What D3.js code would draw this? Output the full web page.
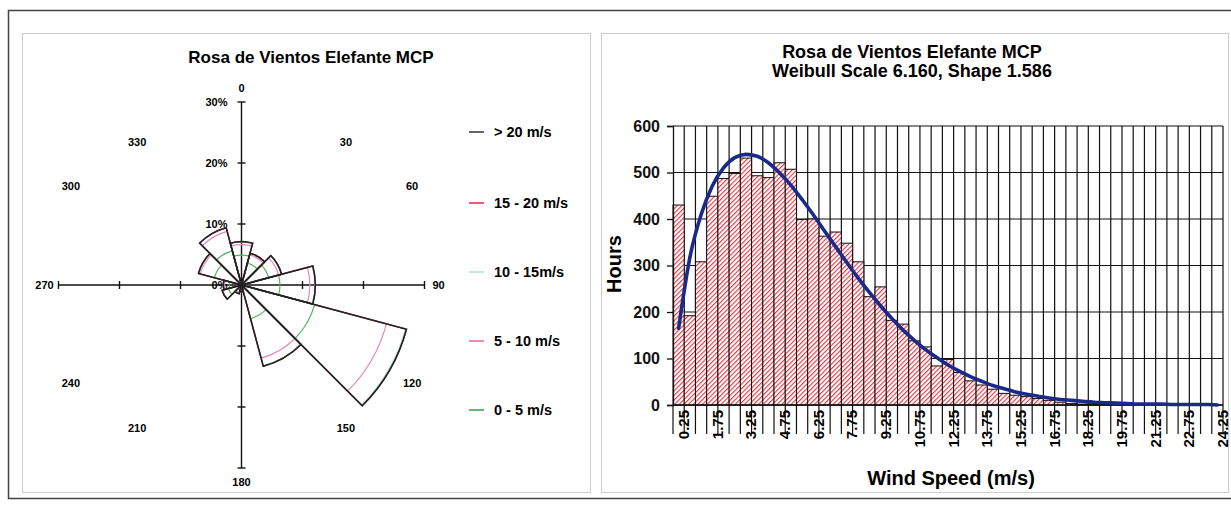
<!DOCTYPE html>
<html>
<head>
<meta charset="utf-8">
<script src="https://cdn.jsdelivr.net/npm/d3@7"></script>
<style>
  body { margin: 0; background: #fff; }
  svg { display: block; font-family: "Liberation Sans", Arial, sans-serif; font-weight: bold; }
</style>
</head>
<body>
<svg id="chart" width="1231" height="507"></svg>
<script>
// wind rose: % of time per direction sector and speed band
const directions = [0, 30, 60, 90, 120, 150, 180, 210, 240, 270, 300, 330]
const speed0to5 = [4.9, 3.7, 4.6, 6.3, 12.4, 5.7, 0.6, 0.8, 2.2, 2.0, 4.6, 5.8]
const speed5to10 = [1.7, 1.4, 1.7, 4.9, 12.2, 6.7, 0.4, 0.5, 1.0, 0.8, 2.4, 3.3]
const speed10to15 = [0.4, 0.3, 0.5, 0.8, 3.2, 1.3, 0.1, 0.2, 0.1, 0.2, 0.3, 0.6]
const speed15to20 = [0.1, 0.0, 0.0, 0.1, 0.2, 0.1, 0.0, 0.0, 0.0, 0.0, 0.0, 0.0]
const speedOver20 = [0.0, 0.0, 0.0, 0.0, 0.0, 0.0, 0.0, 0.0, 0.0, 0.0, 0.0, 0.0]
const bandNames = ['0 - 5 m/s', '5 - 10 m/s', '10 - 15m/s', '15 - 20 m/s', '> 20 m/s']
const roseTicks = [0, 10, 20, 30]

// histogram: hours per 0.5 m/s bin, plus the Weibull fit
const speedBins = ['0.25', '0.75', '1.25', '1.75', '2.25', '2.75', '3.25', '3.75', '4.25', '4.75',
  '5.25', '5.75', '6.25', '6.75', '7.25', '7.75', '8.25', '8.75', '9.25', '9.75',
  '10.25', '10.75', '11.25', '11.75', '12.25', '12.75', '13.25', '13.75', '14.25', '14.75',
  '15.25', '15.75', '16.25', '16.75', '17.25', '17.75', '18.25', '18.75', '19.25', '19.75',
  '20.25', '20.75', '21.25', '21.75', '22.25', '22.75', '23.25', '23.75', '24.25']
const hours = [430, 192, 308, 449, 487, 498, 531, 493, 489, 521,
  507, 399, 400, 363, 372, 348, 308, 233, 254, 182,
  174, 138, 125, 84, 98, 70, 52, 43, 34, 25,
  21, 18, 14, 10, 6, 3, 2, 2, 1, 1,
  1, 0, 0, 0, 0, 0, 0, 0, 0]
const weibullHours = [165, 317, 409, 471, 510, 532, 539, 535, 521, 499,
  473, 442, 409, 374, 340, 306, 273, 242, 213, 186,
  161, 139, 119, 102, 86, 73, 61, 51, 42, 35,
  28, 23, 19, 15, 12, 10, 8, 6, 5, 4,
  3, 2, 2, 2, 1, 1, 1, 1, 0]
const speedTickLabels = ['0.25', '1.75', '3.25', '4.75', '6.25', '7.75', '9.25', '10.75', '12.25',
  '13.75', '15.25', '16.75', '18.25', '19.75', '21.25', '22.75', '24.25']
const hoursTicks = [0, 100, 200, 300, 400, 500, 600]

const bandColors = ['#4fb65a', '#e28ab8', '#b8e9d8', '#d62a52', '#222']
const legendColors = ['#3d9a4c', '#e06aa0', '#a8e2cf', '#d62a52', '#333']

const svg = d3.select('#chart')

// frames
svg.append('rect')
  .attr('x', 8.5).attr('y', 10.5).attr('width', 1240).attr('height', 488)
  .attr('fill', 'none').attr('stroke', '#444').attr('stroke-width', 1.5)
svg.append('rect')
  .attr('x', 22.5).attr('y', 33.5).attr('width', 568).attr('height', 459)
  .attr('fill', 'none').attr('stroke', '#999').attr('stroke-dasharray', '1,1')
svg.append('rect')
  .attr('x', 601.5).attr('y', 33.5).attr('width', 627).attr('height', 459)
  .attr('fill', 'none').attr('stroke', '#999').attr('stroke-dasharray', '1,1')

/* ---------- wind rose ---------- */
function drawRose() {
  const cx = 241.5
  const cy = 285
  const r = d3.scaleLinear().domain([0, 30]).range([0, 183])
  const rMax = r(30)
  const rad = (deg) => deg * Math.PI / 180

  svg.append('text')
    .attr('x', 311).attr('y', 63)
    .attr('text-anchor', 'middle')
    .attr('font-size', 17)
    .text('Rosa de Vientos Elefante MCP')

  const g = svg.append('g').attr('transform', `translate(${cx},${cy})`)

  // axes cross with ticks every 10%
  g.append('line').attr('x1', -rMax).attr('x2', rMax).attr('y1', 0).attr('y2', 0)
    .attr('stroke', '#111').attr('stroke-width', 1.4)
  g.append('line').attr('y1', -rMax).attr('y2', rMax).attr('x1', 0).attr('x2', 0)
    .attr('stroke', '#111').attr('stroke-width', 1.4)
  roseTicks.filter((t) => t > 0).forEach((t) => {
    [-1, 1].forEach((s) => {
      g.append('line').attr('x1', s * r(t)).attr('x2', s * r(t)).attr('y1', -4).attr('y2', 4)
        .attr('stroke', '#111').attr('stroke-width', 1.4)
      g.append('line').attr('y1', s * r(t)).attr('y2', s * r(t)).attr('x1', -4).attr('x2', 4)
        .attr('stroke', '#111').attr('stroke-width', 1.4)
    })
  })
  g.selectAll('text.pct')
    .data(roseTicks)
    .join('text')
    .attr('class', 'pct')
    .attr('x', -14)
    .attr('y', (d) => -r(d) + 4)
    .attr('text-anchor', 'end')
    .attr('font-size', 11)
    .text((d) => d + '%')

  // stacked petals, inner band first so the outer black outline sits on top
  const bands = [speed0to5, speed5to10, speed10to15, speed15to20, speedOver20]
  const cumulative = directions.map((d, j) => d3.cumsum(bands.map((b) => b[j])))
  const arc = d3.arc().innerRadius(0)

  bands.forEach((band, i) => {
    g.append('g')
      .selectAll('path')
      .data(directions)
      .join('path')
      .attr('d', (dir, j) => arc({
        outerRadius: r(cumulative[j][i]),
        startAngle: rad(dir - 15),
        endAngle: rad(dir + 15)
      }))
      .attr('fill', 'none')
      .attr('stroke', bandColors[i])
      .attr('stroke-width', i === bands.length - 1 ? 1.6 : 1.2)
  })

  // direction labels; the near-vertical ones are pulled in toward the centre line
  const cardinal = (d) => d % 90 === 0
  const labelPos = (d) => {
    let px = Math.sin(rad(d)) * 197
    let py = -Math.cos(rad(d)) * 197
    if (!cardinal(d) && Math.abs(py) > 143) {
      py = Math.sign(py) * 143
      px *= 1.06
    }
    return [px, py]
  }
  g.selectAll('text.dir')
    .data(directions)
    .join('text')
    .attr('class', 'dir')
    .attr('x', (d) => labelPos(d)[0])
    .attr('y', (d) => labelPos(d)[1])
    .attr('dy', '0.35em')
    .attr('text-anchor', 'middle')
    .attr('font-size', 11)
    .text((d) => d)

  // legend, highest band on top
  const legendY = [410, 341, 272, 203, 132]
  const legend = svg.append('g')
  bandNames.forEach((name, i) => {
    legend.append('line')
      .attr('x1', 469).attr('x2', 484)
      .attr('y1', legendY[i]).attr('y2', legendY[i])
      .attr('stroke', legendColors[i]).attr('stroke-width', 1.5)
    legend.append('text')
      .attr('x', 494).attr('y', legendY[i])
      .attr('dy', '0.35em')
      .attr('font-size', 14.5)
      .text(name)
  })
}

/* ---------- histogram ---------- */
function drawHistogram() {
  const left = 673
  const right = 1223
  const top = 126
  const bottom = 405

  const x = d3.scaleBand().domain(speedBins).range([left, right]).padding(0)
  const y = d3.scaleLinear().domain([0, 600]).range([bottom, top])
  const bw = x.bandwidth()

  const defs = svg.append('defs')
  const pattern = defs.append('pattern')
    .attr('id', 'hatch')
    .attr('patternUnits', 'userSpaceOnUse')
    .attr('width', 3.3).attr('height', 3.3)
    .attr('patternTransform', 'rotate(45)')
  pattern.append('rect').attr('width', 3.3).attr('height', 3.3).attr('fill', '#fff')
  pattern.append('line')
    .attr('x1', 0.6).attr('x2', 0.6).attr('y1', 0).attr('y2', 3.3)
    .attr('stroke', '#e3323e').attr('stroke-width', 1.1)

  svg.append('text')
    .attr('x', 912).attr('y', 58)
    .attr('text-anchor', 'middle')
    .attr('font-size', 18)
    .text('Rosa de Vientos Elefante MCP')
  svg.append('text')
    .attr('x', 912).attr('y', 77)
    .attr('text-anchor', 'middle')
    .attr('font-size', 18)
    .text('Weibull Scale 6.160, Shape 1.586')

  // grid
  const grid = svg.append('g').attr('stroke', '#111').attr('stroke-width', 1.2)
  grid.selectAll('line.h')
    .data(hoursTicks)
    .join('line')
    .attr('class', 'h')
    .attr('x1', left).attr('x2', right)
    .attr('y1', (d) => y(d)).attr('y2', (d) => y(d))
  grid.selectAll('line.v')
    .data(speedBins)
    .join('line')
    .attr('class', 'v')
    .attr('x1', (d) => x(d) + bw).attr('x2', (d) => x(d) + bw)
    .attr('y1', top).attr('y2', bottom)

  // bars
  svg.append('g')
    .selectAll('rect')
    .data(speedBins)
    .join('rect')
    .attr('x', (d) => x(d))
    .attr('y', (d, i) => y(hours[i]))
    .attr('width', bw)
    .attr('height', (d, i) => bottom - y(hours[i]))
    .attr('fill', 'url(#hatch)')
    .attr('stroke', '#111')
    .attr('stroke-width', 1)

  // y axis
  const yAxis = svg.append('g')
    .attr('transform', `translate(${left},0)`)
    .call(d3.axisLeft(y).tickValues(hoursTicks).tickSize(6).tickPadding(7))
  yAxis.select('.domain').attr('stroke', '#111').attr('stroke-width', 1.3)
  yAxis.selectAll('.tick line').attr('stroke', '#111').attr('stroke-width', 1.3)
  yAxis.selectAll('.tick text')
    .attr('font-size', 16).attr('font-weight', 'bold')
    .attr('font-family', '"Liberation Sans", Arial, sans-serif')
    .attr('fill', '#111')

  // x axis: long ticks at every bin edge, rotated labels every third bin
  svg.append('line')
    .attr('x1', left).attr('x2', right).attr('y1', bottom).attr('y2', bottom)
    .attr('stroke', '#111').attr('stroke-width', 1.5)
  svg.append('g')
    .selectAll('line')
    .data(speedBins)
    .join('line')
    .attr('x1', (d) => x(d) + bw).attr('x2', (d) => x(d) + bw)
    .attr('y1', bottom).attr('y2', bottom + 29)
    .attr('stroke', '#111').attr('stroke-width', 1.2)
  svg.append('line')
    .attr('x1', left).attr('x2', left).attr('y1', bottom).attr('y2', bottom + 29)
    .attr('stroke', '#111').attr('stroke-width', 1.2)
  svg.append('g')
    .selectAll('text')
    .data(speedTickLabels)
    .join('text')
    .attr('transform', (d) => `translate(${x(d) + bw - 0.5},${bottom + 5}) rotate(-90)`)
    .attr('dy', '0.36em')
    .attr('text-anchor', 'end')
    .attr('font-size', 15)
    .text((d) => d)

  // weibull curve
  const line = d3.line()
    .x((d, i) => x(speedBins[i]) + bw / 2)
    .y((d) => y(d))
    .curve(d3.curveMonotoneX)
  svg.append('path')
    .datum(weibullHours)
    .attr('d', line)
    .attr('fill', 'none')
    .attr('stroke', '#1b2a8a')
    .attr('stroke-width', 3.6)
    .attr('stroke-linecap', 'round')

  // axis titles
  svg.append('text')
    .attr('transform', 'translate(621,264) rotate(-90)')
    .attr('text-anchor', 'middle')
    .attr('font-size', 20)
    .text('Hours')
  svg.append('text')
    .attr('x', 951).attr('y', 485)
    .attr('text-anchor', 'middle')
    .attr('font-size', 20)
    .text('Wind Speed (m/s)')
}

drawRose()
drawHistogram()
</script>
</body>
</html>
